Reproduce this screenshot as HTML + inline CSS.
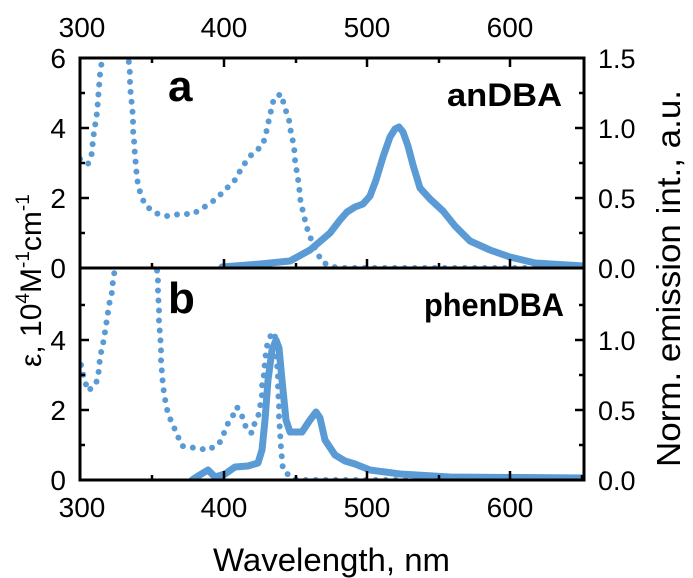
<!DOCTYPE html>
<html><head><meta charset="utf-8"><style>
html,body{margin:0;padding:0;background:#fff;}
svg{display:block;font-family:"Liberation Sans",Arial,sans-serif;}
</style></head><body>
<svg width="693" height="578" viewBox="0 0 693 578">
<defs>
<clipPath id="ca"><rect x="80" y="58" width="504" height="210"/></clipPath>
<clipPath id="cb"><rect x="80" y="268" width="504" height="212"/></clipPath>
</defs>
<g fill="none" stroke="#5b9bd5" stroke-linecap="round" stroke-linejoin="round">
<g clip-path="url(#ca)">
<polyline stroke-width="7" points="222,267 260,264 290,261 310,250 330,233 340,220 347,212 355,207 363,204 370,196 376,180 383,157 390,137 395,129 399,127 403,132 408,146 413,165 420,188 430,199 443,211 455,226 470,241 490,250 510,257 535,263 584,266"/>
<polyline stroke-width="6" stroke-dasharray="0 10" points="80,159 88,164 92,153 93,139 95,126 97,113 98,100 99,87 100,74 102,60 104,50 127,50 129,63 130,74 130,86 131,96 132,106 133,117 133,130 134,140 135,156 136,166 137,179 140,192 145,205 155,213 167,216 180,214 193,214 206,206 216,199 225,190 236,179 242,167 252,154 262,146 265,138 268,124 270,115 274,98 281,94 285,108 289,120 291,133 294,146 295,160 297,173 299,185 300,198 303,212 307,228 312,242 322,262 333,267 345,268 584,268"/>
</g>
<g clip-path="url(#cb)">
<polyline stroke-width="7" points="192,480 198,476 208,470 215,477 225,474 235,467 248,466 258,463 262,450 265,420 268,380 272,350 276,340 279,348 282,380 286,420 290,432 302,432 310,420 316,412 320,418 325,440 335,455 345,461 355,464 370,470 400,474 450,477 584,478"/>
<polyline stroke-width="6" stroke-dasharray="0 10" points="81,365 84,378 88,391 96,384 99,370 100,357 103,344 105,332 107,319 109,305 112,292 113,280 115,269 116,262 156,262 157,270 158,281 158,295 159,307 159,321 160,334 161,347 161,360 162,373 163,386 165,399 168,414 173,425 182,446 195,448 208,450 219,444 224,433 229,421 234,414 237,407 243,418 247,431 252,433 254,425 258,417 260,407 262,395 262,386 264,374 265,360 267,346 270,337 273,332 276,339 276,351 277,363 278,377 278,389 279,405 279,417 280,431 281,448 283,470 293,479 300,480 584,480"/>
</g>
</g>
<g stroke="#000" stroke-width="3" fill="none">
<rect x="80" y="58" width="504" height="422"/>
<line x1="80" y1="268" x2="584" y2="268"/>
</g>
<g stroke="#000" stroke-width="2.5">
<path d="M224,480v-9M367,480v-9M510,480v-9M152,480v-5M296,480v-5M439,480v-5M582,480v-5
M224,268v-9M367,268v-9M510,268v-9M152,268v-5M296,268v-5M439,268v-5
M224,58v9M367,58v9M510,58v9M152,58v5M296,58v5M439,58v5"/>
<path d="M80,198h9M80,128h9M80,163h5M80,233h5M80,93h5
M80,410h9M80,340h9M80,445h5M80,375h5M80,305h5"/>
<path d="M584,198h-9M584,128h-9M584,163h-5M584,233h-5M584,93h-5
M584,410h-9M584,340h-9M584,445h-5M584,375h-5M584,305h-5"/>
</g>
<g font-size="28" fill="#000">
<g text-anchor="middle">
<text x="82" y="37">300</text><text x="224" y="37">400</text><text x="367" y="37">500</text><text x="510" y="37">600</text>
<text x="82" y="517">300</text><text x="224" y="517">400</text><text x="367" y="517">500</text><text x="510" y="517">600</text>
</g>
<g text-anchor="end">
<text x="66" y="68">6</text><text x="66" y="138">4</text><text x="66" y="208">2</text><text x="66" y="278">0</text>
<text x="66" y="350">4</text><text x="66" y="420">2</text><text x="66" y="490">0</text>
</g>
<g font-size="27">
<text x="598" y="68">1.5</text><text x="598" y="138">1.0</text><text x="598" y="208">0.5</text><text x="598" y="278">0.0</text>
<text x="598" y="350">1.0</text><text x="598" y="420">0.5</text><text x="598" y="490">0.0</text>
</g>
<text x="213" y="571" font-size="32" textLength="237" lengthAdjust="spacingAndGlyphs">Wavelength, nm</text>
<text transform="translate(41,367) rotate(-90)" font-size="30">ε, 10<tspan font-size="19" dy="-12">4</tspan><tspan dy="12">M</tspan><tspan font-size="19" dy="-12">-1</tspan><tspan dy="12">cm</tspan><tspan font-size="19" dy="-12">-1</tspan></text>
<text transform="translate(680,467) rotate(-90)" font-size="33" textLength="377" lengthAdjust="spacingAndGlyphs">Norm. emission int., a.u.</text>
<text x="168" y="101" font-size="44" font-weight="bold">a</text>
<text x="168" y="313" font-size="44" font-weight="bold">b</text>
<text x="447" y="106" font-size="32" font-weight="bold" textLength="115" lengthAdjust="spacingAndGlyphs">anDBA</text>
<text x="424" y="316" font-size="32" font-weight="bold" textLength="140" lengthAdjust="spacingAndGlyphs">phenDBA</text>
</g>
</svg>
</body></html>
